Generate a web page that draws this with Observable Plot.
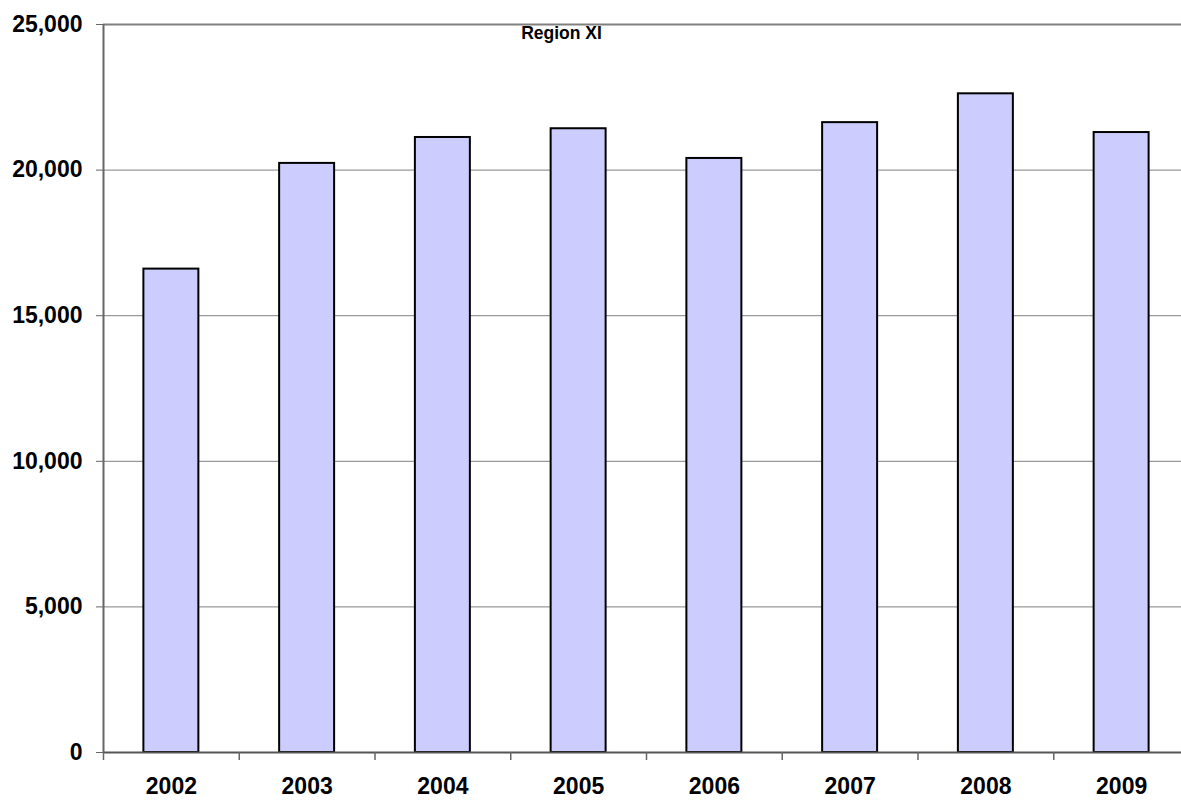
<!DOCTYPE html>
<html>
<head>
<meta charset="utf-8">
<script src="https://cdn.jsdelivr.net/npm/d3@7"></script>
<script src="https://cdn.jsdelivr.net/npm/@observablehq/plot@0.6"></script>
<style>
  html, body { margin: 0; padding: 0; background: #fff; overflow: hidden; }
  #chart svg { display: block; font-family: "Liberation Sans", Arial, sans-serif; }
</style>
</head>
<body>
<div id="chart"></div>
<script>
const title = "Region XI";
const years = ["2002", "2003", "2004", "2005", "2006", "2007", "2008", "2009"];
const values = [16600, 20230, 21120, 21420, 20400, 21630, 22620, 21290];
const yTicks = [0, 5000, 10000, 15000, 20000, 25000];

const data = years.map((y, i) => ({year: y, value: values[i]}));

const W = 1181, H = 800;
const mL = 103, mR = -8, mT = 24, mB = 48;
const step = (W - mL - mR) / years.length;
const pad = 0.595;

const chart = Plot.plot({
  width: W,
  height: H,
  marginLeft: mL,
  marginRight: mR,
  marginTop: mT,
  marginBottom: mB,
  style: {fontFamily: "'Liberation Sans', Arial, sans-serif", background: "#fff"},
  x: {domain: years, paddingInner: pad, paddingOuter: pad / 2, round: false, label: null},
  y: {domain: [0, 25000], label: null},
  marks: [
    Plot.gridY(yTicks.filter(t => t > 0 && t < 25000), {stroke: "#808080", strokeOpacity: 1, strokeWidth: 1}),
    Plot.ruleY([25000], {stroke: "#808080", strokeWidth: 2}),
    Plot.barY(data, {x: "year", y: "value", fill: "#CCCCFF", stroke: "#000", strokeWidth: 2}),
    Plot.ruleY([0], {stroke: "#555", strokeWidth: 2}),
    // y axis line at left frame edge
    Plot.ruleX([years[0]], {x: d => d, dx: -step / 2, y1: 0, y2: 25000, stroke: "#666", strokeWidth: 2}),
    // category boundary ticks below baseline
    Plot.ruleX(years, {x: d => d, dx: -step / 2, y1: 0, y2: 0, insetBottom: -8, stroke: "#666", strokeWidth: 1.5}),
    Plot.axisY(yTicks, {
      tickSize: 7, tickPadding: 14, stroke: "#666",
      tickFormat: d => d3.format(",")(d),
      fontSize: 23, fontWeight: "bold", fill: "#000"
    }),
    Plot.axisX({tickSize: 0, tickPadding: 25, fontSize: 23, fontWeight: "bold", fill: "#000"}),
    Plot.text([title], {frameAnchor: "top-left", dx: 458, dy: 2, text: d => d, fontSize: 17.5, fontWeight: "bold", fill: "#000", textAnchor: "middle", lineAnchor: "top"})
  ]
});
document.getElementById("chart").appendChild(chart);
</script>
</body>
</html>
